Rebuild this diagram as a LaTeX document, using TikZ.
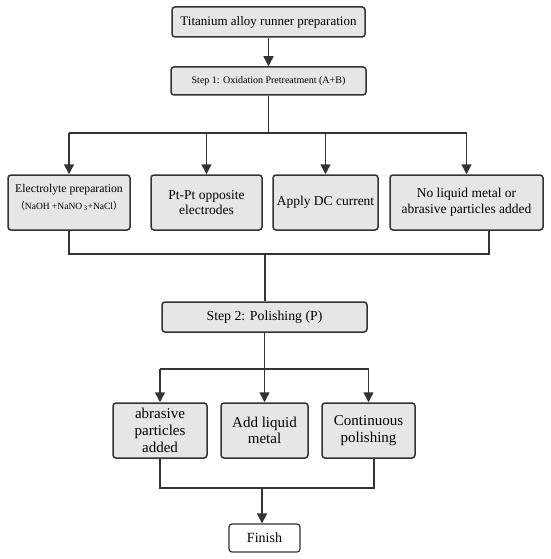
\documentclass[tikz,border=0pt]{standalone}
\usepackage{fontspec}
\setmainfont{Liberation Serif}
\newfontfamily\cjkfont{Noto Sans CJK SC}
\usetikzlibrary{arrows.meta,positioning}
\definecolor{boxfill}{HTML}{E6E6E6}
\definecolor{boxline}{HTML}{333333}
\tikzset{
  stepbox/.style={draw=boxline, fill=boxfill, line width=1.5pt, rounded corners=3pt,
    align=center, inner sep=1pt, anchor=center},
  endbox/.style={stepbox, fill=white, line width=1.2pt},
  conn/.style={draw=boxline, line width=1.5pt},
  arr/.style={conn, -{Triangle[length=10pt,width=10pt]}},
}
\begin{document}
\begin{tikzpicture}[x=1pt,y=-1pt]
\useasboundingbox (0,0) rectangle (550,559);
% top
\node[stepbox, minimum width=193pt, minimum height=30pt, font=\fontsize{13}{15}\selectfont] (prep) at (268.5,22) {Titanium alloy runner preparation};
\node[stepbox, minimum width=195pt, minimum height=28pt, font=\fontsize{10}{12}\selectfont] (s1) at (268.5,81) {Step 1: Oxidation Pretreatment (A+B)};
% row 1
\node[stepbox, minimum width=122pt, minimum height=55pt] (a) at (69,202.5) {};
\node[font=\fontsize{11.7}{14}\selectfont, inner sep=0pt] (atext) at (69,190) {Electrolyte preparation};
\node[font=\fontsize{9.5}{11}\selectfont, inner sep=0pt] (aform) at (69,206) {{\cjkfont （}NaOH +NaNO\,\textsubscript{3}+NaCl{\cjkfont ）}};
\node[stepbox, minimum width=111pt, minimum height=55pt, font=\fontsize{13.5}{15.5}\selectfont] (b) at (206.5,202.5) {Pt-Pt opposite\\electrodes};
\node[stepbox, minimum width=105pt, minimum height=55pt, font=\fontsize{13.5}{15.5}\selectfont] (c) at (325.5,202.5) {Apply DC current};
\node[stepbox, minimum width=153pt, minimum height=55pt, font=\fontsize{13.5}{15.5}\selectfont] (d) at (466.5,202.5) {No liquid metal or\\abrasive particles added};
% step 2
\node[stepbox, minimum width=205pt, minimum height=30pt, font=\fontsize{13.8}{16}\selectfont] (s2) at (264.5,317) {Step 2: Polishing (P)};
% row 3
\node[stepbox, minimum width=94pt, minimum height=55pt, font=\fontsize{15}{16.7}\selectfont] (e) at (160,430.5) {abrasive\\particles\\added};
\node[stepbox, minimum width=87pt, minimum height=55pt, font=\fontsize{15}{16.7}\selectfont] (f) at (264.5,430.5) {Add liquid\\metal};
\node[stepbox, minimum width=93pt, minimum height=55pt, font=\fontsize{15}{16.7}\selectfont] (g) at (368.5,430.5) {Continuous\\polishing};
\node[endbox, minimum width=71pt, minimum height=28pt, font=\fontsize{14}{16}\selectfont] (fin) at (264.5,538) {Finish};
% coordinates
\coordinate (j1) at (268.5,133);
\coordinate (j1l) at (69,133);
\coordinate (j1r) at (466.5,133);
\coordinate (j2l) at (69,254);
\coordinate (j2r) at (489,254);
\coordinate (j2m) at (265,254);
\coordinate (j3) at (264.5,369);
\coordinate (j3l) at (160,369);
\coordinate (j3r) at (368.5,369);
\coordinate (j4l) at (160,488);
\coordinate (j4r) at (374,488);
\coordinate (j4m) at (262,488);
% connectors
\draw[arr] (prep) -- (s1);
\draw[conn] (s1.south -| j1) -- (j1);
\draw[conn] (j1l) -- (j1r);
\draw[arr] (j1l) -- (a.north);
\draw[arr] (j1 -| b) -- (b.north);
\draw[arr] (j1 -| c) -- (c.north);
\draw[arr] (j1r) -- (d.north);
\draw[conn] (a.south) -- (j2l) -- (j2r) -- (d.south -| j2r);
\draw[conn] (j2m) -- (s2.north -| j2m);
\draw[conn] (s2.south) -- (j3);
\draw[conn] (j3l) -- (j3r);
\draw[arr] (j3l) -- (e.north);
\draw[arr] (j3) -- (f.north);
\draw[arr] (j3r) -- (g.north);
\draw[conn] (e.south) -- (j4l) -- (j4r) -- (g.south -| j4r);
\draw[arr] (j4m) -- (fin.north -| j4m);
\end{tikzpicture}
\end{document}
